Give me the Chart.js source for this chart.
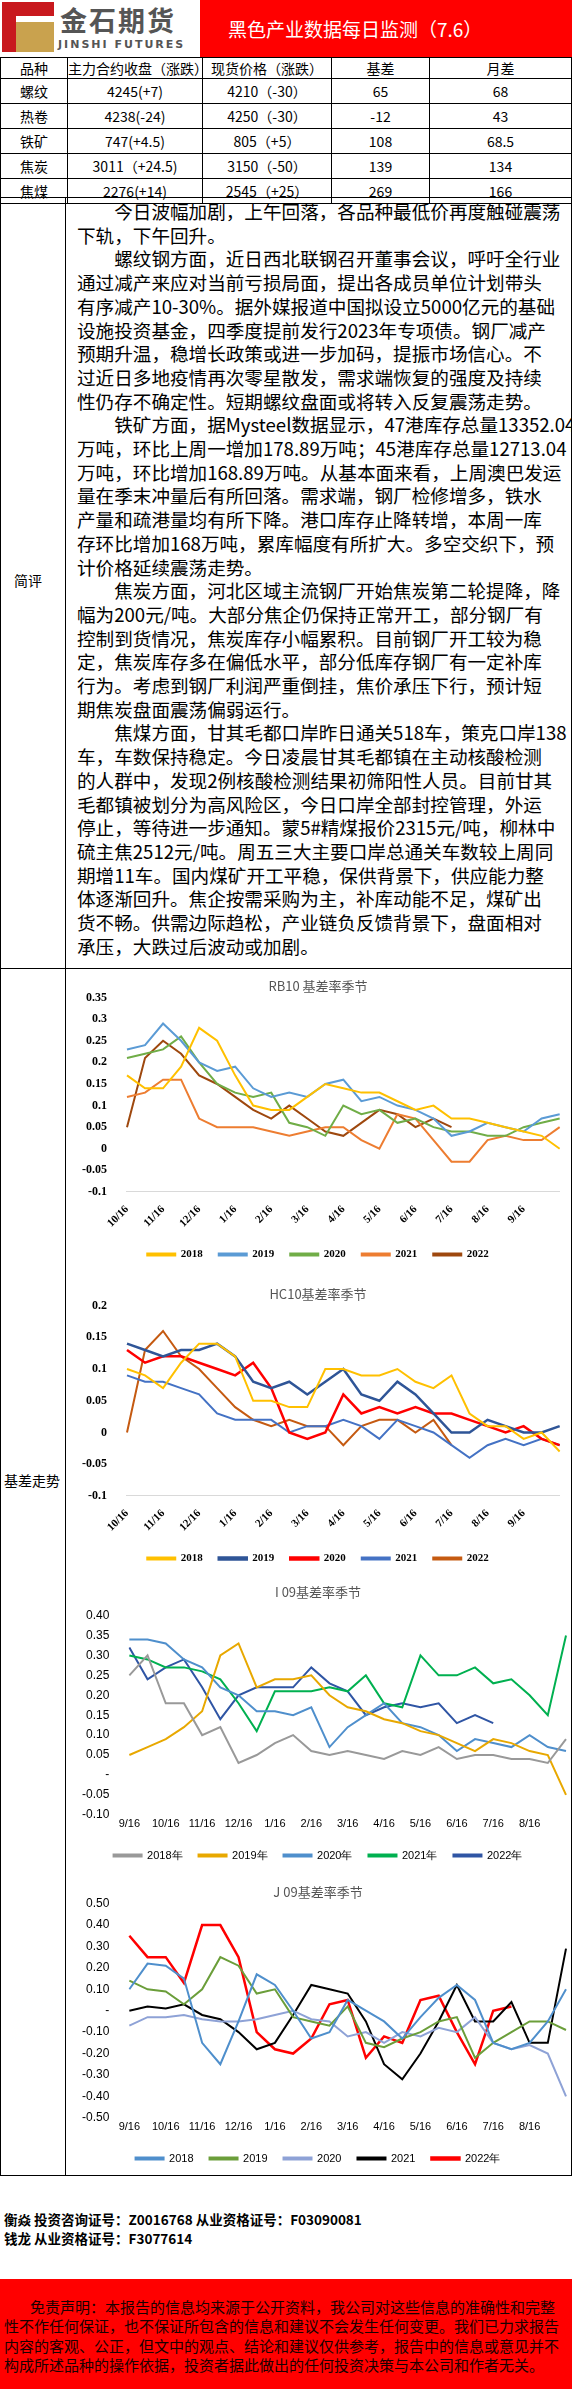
<!DOCTYPE html>
<html>
<head>
<meta charset="utf-8">
<script src="https://cdn.jsdelivr.net/npm/chart.js@4.4.0/dist/chart.umd.min.js"></script>
<style>
body { margin: 0; width: 572px; height: 2389px; position: relative; background: #fff; font-family: "Noto Sans CJK SC", sans-serif; overflow: hidden; }
.abs { position: absolute; box-sizing: border-box; }
table { border-collapse: collapse; font-size: 14px; }
td { border: 1px solid #000; text-align: center; padding: 0; height: 24px; }
.txt { font-size: 18.6px; line-height: 23.7px; color: #000; white-space: nowrap; }
.txt .in { padding-left: 2em; }
.disc { white-space: nowrap; }
.chartbox { position: absolute; left: 66px; width: 506px; }
</style>
</head>
<body>
<!-- header -->
<div class="abs" style="left:0;top:0;width:200px;height:57px;background:#fff;">
  <div class="abs" style="left:2px;top:2px;width:14px;height:50px;background:#c8191e;"></div>
  <div class="abs" style="left:16px;top:2px;width:38px;height:14px;background:#c8191e;"></div>
  <div class="abs" style="left:16px;top:22px;width:38px;height:30px;background:#c9a24e;"></div>
  <div class="abs" style="left:60px;top:0px;font-size:27px;font-weight:bold;color:#555;letter-spacing:2px;">金石期货</div>
  <div class="abs" style="left:58px;top:38px;font-size:11px;font-weight:bold;color:#555;letter-spacing:2px;font-family:'DejaVu Sans';">JINSHI FUTURES</div>
</div>
<div class="abs" style="left:200px;top:0;width:372px;height:57px;background:#ff0000;color:#fff;font-size:19px;line-height:57px;padding-left:28px;">黑色产业数据每日监测（7.6）</div>
<!-- table -->
<table class="abs" style="left:0;top:57px;width:572px;">
<tr style="height:19px;"><td style="width:66px;height:18px;">品种</td><td style="width:134px;height:18px;">主力合约收盘（涨跌）</td><td style="width:128px;height:18px;">现货价格（涨跌）</td><td style="width:97px;height:18px;">基差</td><td style="height:18px;">月差</td></tr>
<tr><td>螺纹</td><td>4245(+7)</td><td>4210（-30）</td><td>65</td><td>68</td></tr>
<tr><td>热卷</td><td>4238(-24)</td><td>4250（-30）</td><td>-12</td><td>43</td></tr>
<tr><td>铁矿</td><td>747(+4.5)</td><td>805（+5）</td><td>108</td><td>68.5</td></tr>
<tr><td>焦炭</td><td>3011（+24.5)</td><td>3150（-50）</td><td>139</td><td>134</td></tr>
<tr><td>焦煤</td><td>2276(+14)</td><td>2545（+25）</td><td>269</td><td>166</td></tr>
</table>
<!-- 简评 -->
<div class="abs" style="left:0;top:197px;width:572px;height:772px;border:1px solid #000;"></div>
<div class="abs" style="left:65px;top:197px;width:1px;height:772px;background:#000;"></div>
<div class="abs" style="left:14px;top:570px;font-size:14px;">简评</div>
<div class="abs txt" style="left:77px;top:199px;width:495px;">
<div class="in">今日波幅加剧，上午回落，各品种最低价再度触碰震荡</div>
<div>下轨，下午回升。</div>
<div class="in">螺纹钢方面，近日西北联钢召开董事会议，呼吁全行业</div>
<div>通过减产来应对当前亏损局面，提出各成员单位计划带头</div>
<div>有序减产10-30%。据外媒报道中国拟设立5000亿元的基础</div>
<div>设施投资基金，四季度提前发行2023年专项债。钢厂减产</div>
<div>预期升温，稳增长政策或进一步加码，提振市场信心。不</div>
<div>过近日多地疫情再次零星散发，需求端恢复的强度及持续</div>
<div>性仍存不确定性。短期螺纹盘面或将转入反复震荡走势。</div>
<div class="in">铁矿方面，据Mysteel数据显示，47港库存总量13352.04</div>
<div>万吨，环比上周一增加178.89万吨；45港库存总量12713.04</div>
<div>万吨，环比增加168.89万吨。从基本面来看，上周澳巴发运</div>
<div>量在季末冲量后有所回落。需求端，钢厂检修增多，铁水</div>
<div>产量和疏港量均有所下降。港口库存止降转增，本周一库</div>
<div>存环比增加168万吨，累库幅度有所扩大。多空交织下，预</div>
<div>计价格延续震荡走势。</div>
<div class="in">焦炭方面，河北区域主流钢厂开始焦炭第二轮提降，降</div>
<div>幅为200元/吨。大部分焦企仍保持正常开工，部分钢厂有</div>
<div>控制到货情况，焦炭库存小幅累积。目前钢厂开工较为稳</div>
<div>定，焦炭库存多在偏低水平，部分低库存钢厂有一定补库</div>
<div>行为。考虑到钢厂利润严重倒挂，焦价承压下行，预计短</div>
<div>期焦炭盘面震荡偏弱运行。</div>
<div class="in">焦煤方面，甘其毛都口岸昨日通关518车，策克口岸138</div>
<div>车，车数保持稳定。今日凌晨甘其毛都镇在主动核酸检测</div>
<div>的人群中，发现2例核酸检测结果初筛阳性人员。目前甘其</div>
<div>毛都镇被划分为高风险区，今日口岸全部封控管理，外运</div>
<div>停止，等待进一步通知。蒙5#精煤报价2315元/吨，柳林中</div>
<div>硫主焦2512元/吨。周五三大主要口岸总通关车数较上周同</div>
<div>期增11车。国内煤矿开工平稳，保供背景下，供应能力整</div>
<div>体逐渐回升。焦企按需采购为主，补库动能不足，煤矿出</div>
<div>货不畅。供需边际趋松，产业链负反馈背景下，盘面相对</div>
<div>承压，大跌过后波动或加剧。</div>
</div>
<!-- 基差走势 -->
<div class="abs" style="left:0;top:968px;width:572px;height:1208px;border:1px solid #000;"></div>
<div class="abs" style="left:65px;top:968px;width:1px;height:1208px;background:#000;"></div>
<div class="abs" style="left:4px;top:1470px;font-size:14px;">基差走势</div>
<div class="chartbox" style="top:970px;height:300px;"><canvas id="rb"></canvas></div>
<div class="chartbox" style="top:1278px;height:296px;"><canvas id="hc"></canvas></div>
<div class="chartbox" style="top:1576px;height:295px;"><canvas id="io"></canvas></div>
<div class="chartbox" style="top:1876px;height:298px;"><canvas id="jo"></canvas></div>
<!-- footer -->
<div class="abs" style="left:4px;top:2210px;font-size:13.5px;font-weight:bold;line-height:19px;">衡焱 投资咨询证号：Z0016768 从业资格证号：F03090081<br>钱龙 从业资格证号：F3077614</div>
<div class="abs" style="left:0;top:2279px;width:572px;height:110px;background:#ff0000;color:#1a0000;font-size:15px;line-height:19.3px;padding:18px 0 0 4px;">
<div class="disc" style="padding-left:26px;">免责声明：本报告的信息均来源于公开资料，我公司对这些信息的准确性和完整</div>
<div class="disc">性不作任何保证，也不保证所包含的信息和建议不会发生任何变更。我们已力求报告</div>
<div class="disc">内容的客观、公正，但文中的观点、结论和建议仅供参考，报告中的信息或意见并不</div>
<div class="disc">构成所述品种的操作依据，投资者据此做出的任何投资决策与本公司和作者无关。</div>
</div>

<script>
// x categories (half-month steps)
var rbLabels = ['10/16','','11/16','','12/16','','1/16','','2/16','','3/16','','4/16','','5/16','','6/16','','7/16','','8/16','','9/16','',''];
var ioLabels = ['9/16','','10/16','','11/16','','12/16','','1/16','','2/16','','3/16','','4/16','','5/16','','6/16','','7/16','','8/16','',''];

// RB10 basis rate
var rb2018 = [0.17,0.14,0.14,0.19,0.28,0.25,0.17,0.10,0.09,0.09,0.12,0.15,0.14,0.13,0.13,0.11,0.09,0.10,0.07,0.07,0.06,0.05,0.04,0.03,0.0];
var rb2019 = [0.23,0.24,0.29,0.25,0.20,0.18,0.19,0.14,0.12,0.13,0.12,0.15,0.16,0.11,0.12,0.10,0.09,0.07,0.03,0.04,0.06,0.05,0.04,0.07,0.08];
var rb2020 = [0.21,0.22,0.23,0.26,0.20,0.15,0.13,0.12,0.13,0.06,0.05,0.03,0.10,0.08,0.09,0.06,0.07,0.05,0.04,0.04,0.03,0.03,0.05,0.06,0.07];
var rb2021 = [0.12,0.13,0.16,0.16,0.07,0.05,0.05,0.05,0.04,0.03,0.04,0.05,0.05,0.02,0.00,0.08,0.07,0.02,-0.03,-0.03,0.02,0.03,0.02,0.02,0.05];
var rb2022 = [0.05,0.21,0.25,0.22,0.17,0.15,0.12,0.09,0.07,0.10,0.07,0.04,0.03,0.06,0.09,0.08,0.05,0.07,0.05];

// HC10 basis rate
var hc2018 = [0.10,0.09,0.07,0.11,0.14,0.14,0.12,0.05,0.05,0.04,0.04,0.10,0.10,0.09,0.09,0.10,0.08,0.07,0.09,0.03,0.01,0.01,-0.01,0.0,-0.03];
var hc2019 = [0.14,0.13,0.12,0.13,0.13,0.14,0.12,0.08,0.07,0.08,0.06,0.08,0.10,0.06,0.05,0.08,0.06,0.03,0.00,0.00,0.02,0.01,0.00,0.00,0.01];
var hc2020 = [0.13,0.11,0.12,0.12,0.11,0.10,0.09,0.11,0.07,0.00,-0.01,0.00,0.06,0.03,0.04,0.03,0.04,0.03,0.03,0.02,0.01,0.00,0.01,-0.01,-0.02];
var hc2021 = [0.09,0.08,0.08,0.07,0.06,0.03,0.02,0.02,0.02,0.00,0.01,0.01,0.02,0.01,-0.01,0.02,0.01,0.00,-0.02,-0.04,-0.02,-0.01,-0.02,-0.01,-0.02];
var hc2022 = [0.00,0.13,0.16,0.12,0.10,0.07,0.04,0.02,0.01,0.02,0.01,0.01,-0.02,0.01,0.02,0.02,0.00,0.02,-0.02];

// I09 basis rate
var io2018 = [0.25,0.30,0.18,0.18,0.10,0.12,0.03,0.05,0.08,0.10,0.06,0.05,0.06,0.05,0.04,0.06,0.05,0.07,0.04,0.05,0.05,0.04,0.04,0.03,0.09];
var io2019 = [0.05,0.07,0.09,0.12,0.16,0.30,0.33,0.22,0.24,0.24,0.25,0.20,0.17,0.16,0.14,0.13,0.11,0.10,0.08,0.06,0.09,0.08,0.06,0.05,-0.05];
var io2020 = [0.34,0.34,0.33,0.29,0.27,0.22,0.20,0.16,0.16,0.15,0.17,0.07,0.12,0.15,0.18,0.13,0.12,0.10,0.06,0.09,0.08,0.07,0.10,0.07,0.06];
var io2021 = [0.30,0.29,0.27,0.27,0.26,0.24,0.18,0.11,0.21,0.21,0.21,0.22,0.21,0.25,0.18,0.17,0.30,0.25,0.25,0.27,0.23,0.24,0.20,0.15,0.35];
var io2022 = [0.32,0.24,0.27,0.29,0.22,0.14,0.20,0.22,0.22,0.22,0.27,0.23,0.21,0.15,0.17,0.18,0.17,0.18,0.13,0.15,0.13];

// J09 basis rate
var jo2018 = [0.10,0.22,0.21,0.15,-0.15,-0.25,-0.05,0.17,0.12,0.00,-0.13,-0.10,0.05,0.00,-0.05,-0.13,-0.03,0.06,0.12,0.05,-0.15,-0.18,-0.15,-0.05,0.10];
var jo2019 = [0.14,0.10,0.09,0.03,0.10,0.25,0.21,0.08,0.10,-0.03,-0.05,-0.07,0.02,-0.15,-0.17,-0.13,-0.10,-0.05,-0.03,-0.22,-0.15,-0.10,-0.05,-0.05,-0.09];
var jo2020 = [-0.07,-0.03,-0.03,-0.02,-0.04,-0.05,-0.05,-0.04,-0.02,0.00,-0.04,-0.05,-0.12,-0.10,-0.15,-0.10,-0.12,-0.08,-0.10,-0.03,-0.15,-0.18,-0.16,-0.20,-0.40];
var jo2021 = [0.00,0.02,0.01,0.03,-0.02,-0.04,-0.10,-0.18,-0.15,-0.02,0.12,0.10,0.08,-0.05,-0.25,-0.32,-0.20,-0.05,0.12,-0.05,-0.05,0.04,-0.15,-0.15,0.29];
var jo2022 = [0.35,0.25,0.25,0.13,0.40,0.40,0.25,-0.10,-0.18,-0.20,-0.13,0.03,0.05,-0.22,-0.12,-0.15,0.05,0.07,-0.10,-0.25,0.00,0.02];

function ds(label, data, color, width) {
    return { label: label, data: data, borderColor: color, backgroundColor: color, borderWidth: width || 2, pointRadius: 0, tension: 0 };
}

function makeChart(id, title, labels, sets, ymin, ymax, step, opts) {
    new Chart(document.getElementById(id).getContext('2d'), {
        type: 'line',
        data: { labels: labels, datasets: sets },
        options: {
            responsive: true,
            maintainAspectRatio: false,
            animation: false,
            layout: { padding: { left: 4, right: 6, top: 2, bottom: 0 } },
            plugins: {
                title: { display: true, text: title, color: '#555', font: { size: 13, family: 'Noto Sans CJK SC', weight: 'normal' }, padding: { top: 6, bottom: opts.titlePad } },
                legend: { position: 'bottom', labels: { boxWidth: 28, boxHeight: 2, color: '#000', font: { size: 11, family: opts.font, weight: opts.bold ? 'bold' : 'normal' }, padding: 16 } }
            },
            scales: {
                x: {
                    grid: { display: false, drawTicks: opts.axisLine },
                    border: { display: opts.axisLine, color: '#d9d9d9' },
                    ticks: { autoSkip: false, maxRotation: opts.rot, minRotation: opts.rot, color: '#000', font: { size: 11, family: opts.font, weight: opts.bold ? 'bold' : 'normal' } }
                },
                y: {
                    min: ymin, max: ymax,
                    grid: { display: false },
                    border: { display: false },
                    ticks: {
                        stepSize: step, color: '#000', padding: 12,
                        font: { size: 12, family: opts.font, weight: opts.bold ? 'bold' : 'normal' },
                        callback: opts.fmt
                    }
                }
            }
        }
    });
}

function fmtPlain(v) { return String(Math.round(v * 100) / 100); }
function fmtDash(v) { var r = Math.round(v * 100) / 100; return r === 0 ? '-' : r.toFixed(2); }

makeChart('rb', 'RB10 基差率季节', rbLabels, [
    ds('2018', rb2018, '#ffc000'), ds('2019', rb2019, '#5b9bd5'), ds('2020', rb2020, '#70ad47'),
    ds('2021', rb2021, '#ed7d31'), ds('2022', rb2022, '#9e480e')
], -0.1, 0.35, 0.05, { font: 'Liberation Serif', bold: true, rot: 45, axisLine: true, fmt: fmtPlain, titlePad: 4 });

makeChart('hc', 'HC10基差率季节', rbLabels, [
    ds('2018', hc2018, '#ffc000'), ds('2019', hc2019, '#2f5597', 2.5), ds('2020', hc2020, '#ff0000', 2.5),
    ds('2021', hc2021, '#4472c4'), ds('2022', hc2022, '#c55a11')
], -0.1, 0.2, 0.05, { font: 'Liberation Serif', bold: true, rot: 45, axisLine: true, fmt: fmtPlain, titlePad: 4 });

makeChart('io', 'I 09基差率季节', ioLabels, [
    ds('2018年', io2018, '#999999'), ds('2019年', io2019, '#e8a800'), ds('2020年', io2020, '#4f8fcc'),
    ds('2021年', io2021, '#00b050'), ds('2022年', io2022, '#2f55a4')
], -0.1, 0.4, 0.05, { font: 'Liberation Sans', bold: false, rot: 0, axisLine: false, fmt: fmtDash, titlePad: 16 });

makeChart('jo', 'J 09基差率季节', ioLabels, [
    ds('2018', jo2018, '#4f8fcc'), ds('2019', jo2019, '#6b9e3a'), ds('2020', jo2020, '#8ea2d6'),
    ds('2021', jo2021, '#000000'), ds('2022年', jo2022, '#ff0000', 2.5)
], -0.5, 0.5, 0.1, { font: 'Liberation Sans', bold: false, rot: 0, axisLine: false, fmt: fmtDash, titlePad: 4 });
</script>
</body>
</html>
